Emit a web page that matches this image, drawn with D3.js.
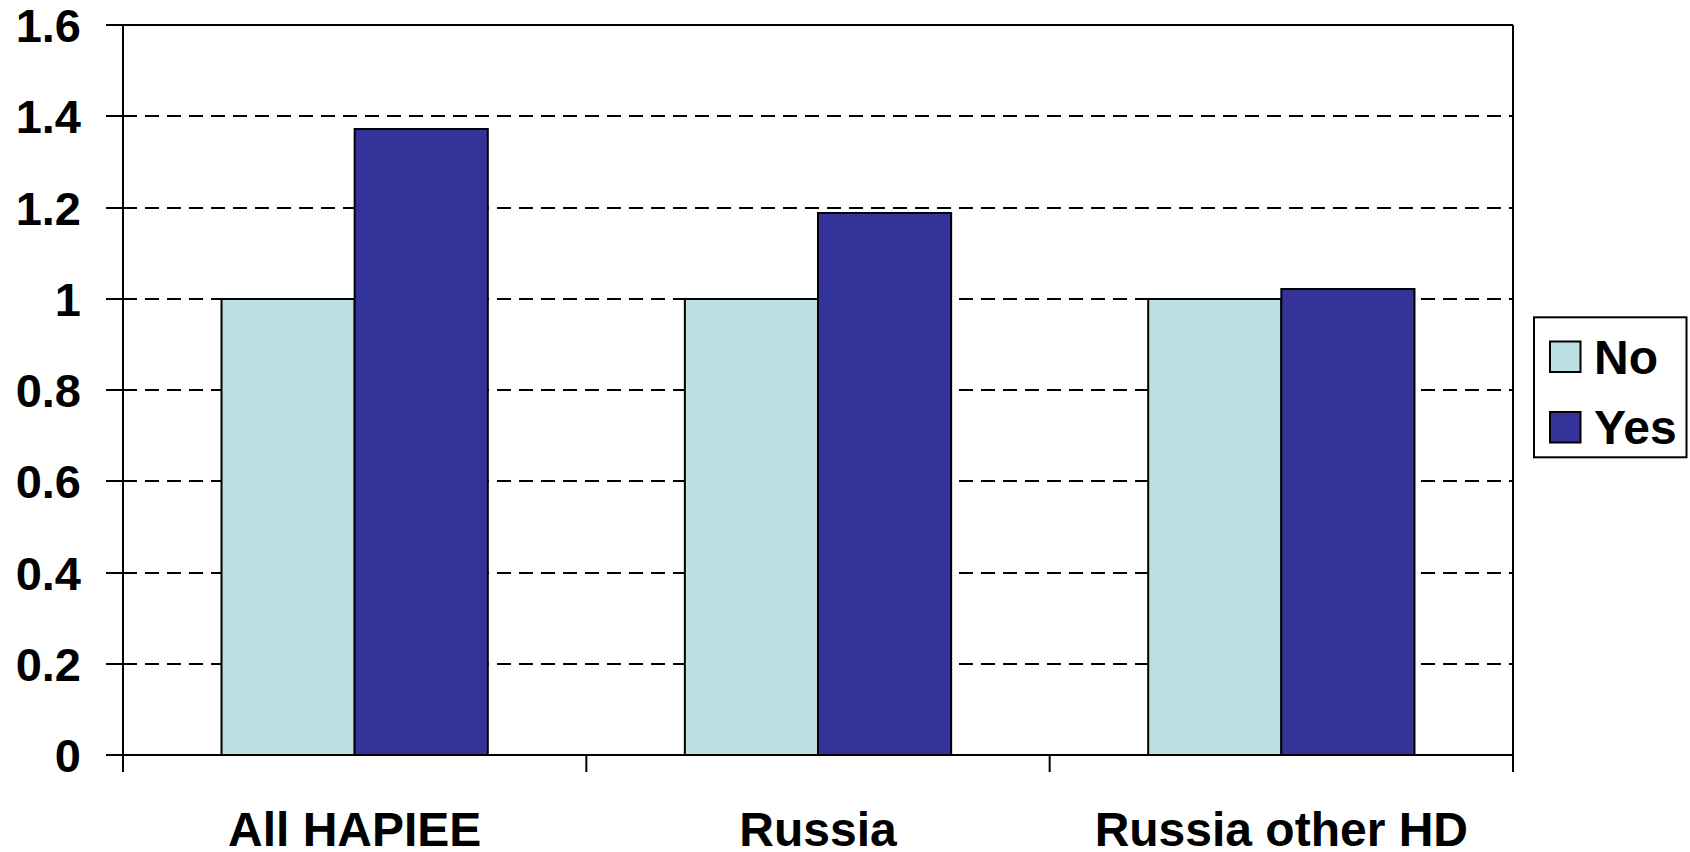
<!DOCTYPE html>
<html>
<head>
<meta charset="utf-8">
<script src="https://cdn.jsdelivr.net/npm/d3@7"></script>
<style>
  html, body { margin: 0; padding: 0; background: #fff; }
  svg { display: block; }
  text { font-family: "Liberation Sans", Arial, sans-serif; font-weight: bold; fill: #000; }
</style>
</head>
<body>
<svg id="chart" width="1690" height="852"></svg>
<script>
const categories = ["All HAPIEE", "Russia", "Russia other HD"];
const seriesNames = ["No", "Yes"];
const noValues = [1.0, 1.0, 1.0];
const yesValues = [1.372, 1.188, 1.021];
const yTicks = [0, 0.2, 0.4, 0.6, 0.8, 1, 1.2, 1.4, 1.6];
const colors = ["#BBE0E3", "#333399"];

const seriesValues = [noValues, yesValues];

const svg = d3.select("#chart");
const margin = { left: 123, right: 1513, top: 25, bottom: 755 };

const x0 = d3.scaleBand().domain(categories).range([margin.left, margin.right]).padding(0);
const x1 = d3.scaleBand().domain(seriesNames).range([0, x0.bandwidth()]).paddingInner(0).paddingOuter(0.74);
const y = d3.scaleLinear().domain([0, 1.6]).range([margin.bottom, margin.top]);
const ry = v => Math.round(y(v));

// gridlines (dashed) behind bars
svg.append("g")
  .selectAll("line")
  .data(yTicks.filter(d => d > 0 && d < 1.6))
  .join("line")
  .attr("x1", margin.left)
  .attr("x2", margin.right)
  .attr("y1", d => ry(d))
  .attr("y2", d => ry(d))
  .attr("stroke", "#000")
  .attr("stroke-width", 2)
  .attr("stroke-dasharray", "14,8");

// plot border: top and right
svg.append("line")
  .attr("x1", margin.left).attr("x2", margin.right)
  .attr("y1", ry(1.6)).attr("y2", ry(1.6))
  .attr("stroke", "#000").attr("stroke-width", 2);
svg.append("line")
  .attr("x1", margin.right).attr("x2", margin.right)
  .attr("y1", ry(1.6)).attr("y2", ry(0))
  .attr("stroke", "#000").attr("stroke-width", 2);

// bars
const groups = svg.append("g")
  .selectAll("g")
  .data(categories)
  .join("g")
  .attr("transform", d => `translate(${x0(d)},0)`);

groups.selectAll("rect")
  .data((c, i) => seriesNames.map((s, j) => ({ s, v: seriesValues[j][i], j })))
  .join("rect")
  .attr("x", d => x1(d.s))
  .attr("width", x1.bandwidth())
  .attr("y", d => ry(d.v))
  .attr("height", d => ry(0) - ry(d.v))
  .attr("fill", d => colors[d.j])
  .attr("stroke", "#000")
  .attr("stroke-width", 2);

// Y axis
const yAxis = d3.axisLeft(y)
  .tickValues(yTicks)
  .tickSize(17)
  .tickPadding(8)
  .tickFormat(d => d3.format("")(d));
const gy = svg.append("g")
  .attr("transform", `translate(${margin.left},0)`)
  .call(yAxis);
gy.selectAll(".tick").attr("transform", d => `translate(0,${ry(d)})`);
gy.select(".domain").attr("stroke", "#000").attr("stroke-width", 2).attr("d", `M-17,${ry(1.6)}H0V${ry(0)}`);
gy.selectAll(".tick line").attr("stroke", "#000").attr("stroke-width", 2);
gy.selectAll(".tick text")
  .attr("x", -42)
  .attr("dy", "0.36em")
  .style("font-size", "47px")
  .style("font-family", "'Liberation Sans', Arial, sans-serif")
  .style("font-weight", "bold")
  .attr("fill", "#000");

// X axis
const gx = svg.append("g")
  .attr("transform", `translate(0,${ry(0)})`);
gx.append("line")
  .attr("x1", margin.left - 17).attr("x2", margin.right)
  .attr("y1", 0).attr("y2", 0)
  .attr("stroke", "#000").attr("stroke-width", 2);
const boundaries = categories.map(c => x0(c)).concat([x0(categories[categories.length - 1]) + x0.bandwidth()]);
gx.selectAll("line.cat")
  .data(boundaries)
  .join("line")
  .attr("class", "cat")
  .attr("x1", d => d).attr("x2", d => d)
  .attr("y1", 0).attr("y2", 17)
  .attr("stroke", "#000").attr("stroke-width", 2);
gx.selectAll("text")
  .data(categories)
  .join("text")
  .attr("x", d => x0(d) + x0.bandwidth() / 2)
  .attr("y", 846 - ry(0))
  .attr("text-anchor", "middle")
  .style("font-size", "48px")
  .text(d => d);

// Legend
const legend = svg.append("g");
legend.append("rect")
  .attr("x", 1534).attr("y", 317.3)
  .attr("width", 152.5).attr("height", 140)
  .attr("fill", "#fff").attr("stroke", "#000").attr("stroke-width", 2);
const items = legend.selectAll("g.item")
  .data(seriesNames)
  .join("g")
  .attr("class", "item")
  .attr("transform", (d, i) => `translate(0,${i * 70.5})`);
items.append("rect")
  .attr("x", 1550).attr("y", 341.5)
  .attr("width", 30.5).attr("height", 30.5)
  .attr("fill", (d, i) => colors[i])
  .attr("stroke", "#000").attr("stroke-width", 2);
items.append("text")
  .attr("x", 1594)
  .attr("y", 373.5)
  .style("font-size", "48px")
  .text(d => d);
</script>
</body>
</html>
